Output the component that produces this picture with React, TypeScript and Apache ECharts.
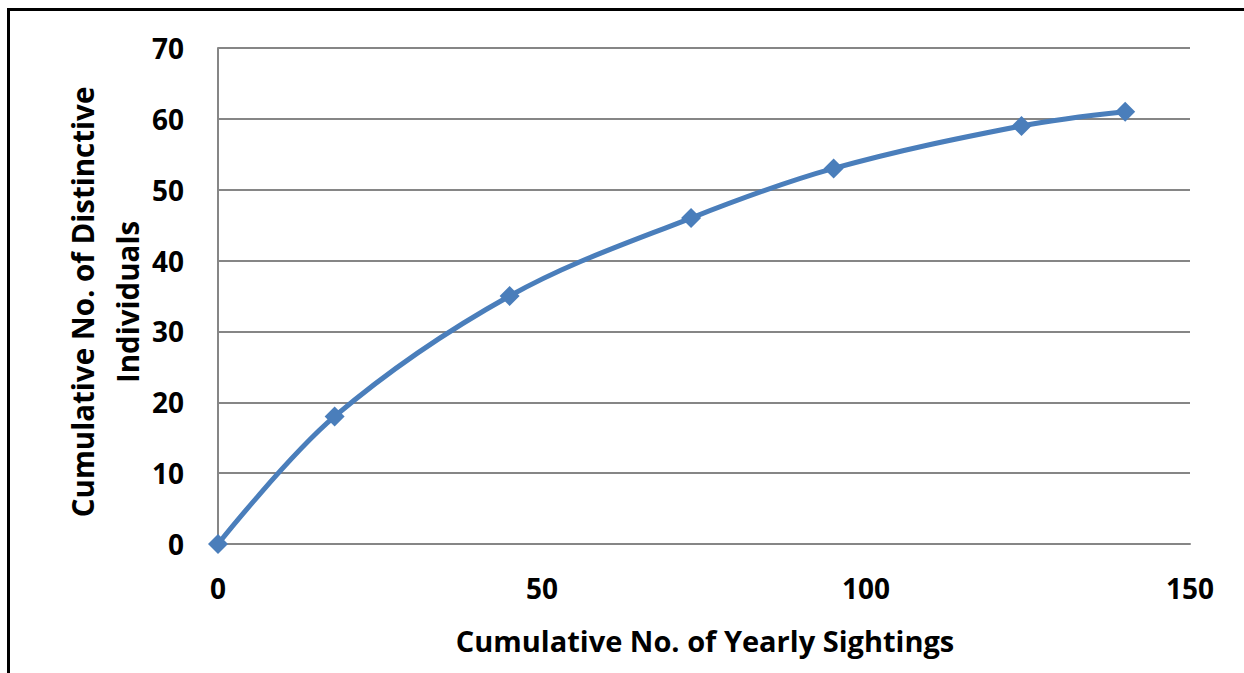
import React, { useEffect, useRef } from "react";
import * as echarts from "echarts";

const sightings = [0, 18, 45, 73, 95, 124, 140];
const individuals = [0, 18, 35, 46, 53, 59, 61];
const xTitle = "Cumulative No. of Yearly Sightings";
const yTitleLines = ["Cumulative No. of Distinctive", "Individuals"];

const FONT = "'Open Sans'";

export default function App() {
  const ref = useRef<HTMLDivElement>(null);
  useEffect(() => {
    if (!ref.current) return;
    const chart = echarts.init(ref.current, undefined, { renderer: "svg" });
    const data = sightings.map((x, i) => [x, individuals[i]]);
    chart.setOption({
      animation: false,
      backgroundColor: "#ffffff",
      grid: { left: 218, right: 54, top: 48, bottom: 129, containLabel: false },
      xAxis: {
        type: "value",
        min: 0,
        max: 150,
        interval: 50,
        axisLine: { show: true, lineStyle: { color: "#868686", width: 2 } },
        axisTick: { show: false },
        splitLine: { show: false },
        axisLabel: {
          margin: 30,
          color: "#000",
          fontFamily: FONT,
          fontWeight: "bold",
          fontSize: 28,
        },
      },
      yAxis: {
        type: "value",
        min: 0,
        max: 70,
        interval: 10,
        axisLine: { show: true, lineStyle: { color: "#868686", width: 2 } },
        axisTick: { show: false },
        splitLine: { show: true, lineStyle: { color: "#868686", width: 2 } },
        axisLabel: {
          margin: 34,
          color: "#000",
          fontFamily: FONT,
          fontWeight: "bold",
          fontSize: 28,
        },
      },
      series: [
        {
          type: "line",
          data,
          smooth: 0.35,
          symbol: "diamond",
          symbolSize: 20,
          lineStyle: { color: "#4A7EBB", width: 5 },
          itemStyle: { color: "#4A7EBB" },
        },
      ],
      graphic: [
        {
          type: "rect",
          shape: { x: 8.5, y: 9.5, width: 1300, height: 700 },
          style: { fill: "none", stroke: "#000", lineWidth: 3 },
          silent: true,
        },
        {
          type: "text",
          x: 705,
          y: 640,
          style: {
            text: xTitle,
            font: `bold 29px ${FONT}`,
            fill: "#000",
            textAlign: "center",
            textVerticalAlign: "middle",
          },
        },
        {
          type: "text",
          x: 82,
          y: 302,
          rotation: Math.PI / 2,
          style: {
            text: yTitleLines[0],
            font: `bold 29.5px ${FONT}`,
            fill: "#000",
            textAlign: "center",
            textVerticalAlign: "middle",
          },
        },
        {
          type: "text",
          x: 127,
          y: 302,
          rotation: Math.PI / 2,
          style: {
            text: yTitleLines[1],
            font: `bold 29.5px ${FONT}`,
            fill: "#000",
            textAlign: "center",
            textVerticalAlign: "middle",
          },
        },
      ],
    });
    return () => chart.dispose();
  }, []);
  return (
    <div
      ref={ref}
      style={{ position: "absolute", left: 0, top: 0, width: 1244, height: 673 }}
    />
  );
}
